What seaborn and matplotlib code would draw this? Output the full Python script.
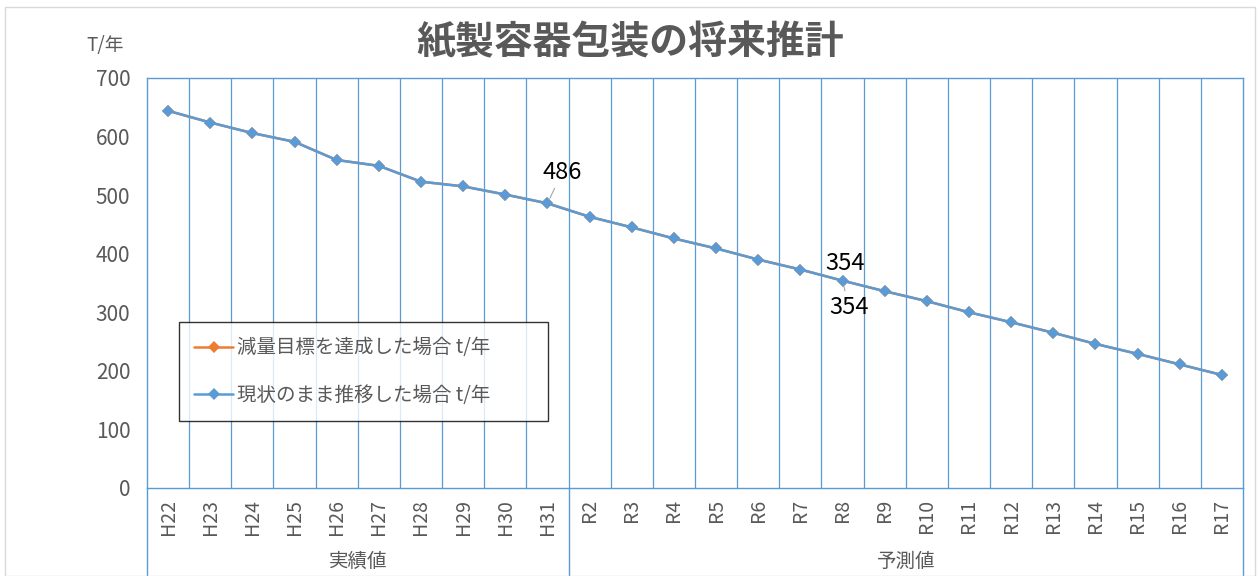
import matplotlib
matplotlib.use("Agg")
import matplotlib.pyplot as plt
import numpy as np
import pandas as pd
import seaborn as sns
from matplotlib.patches import Rectangle

# categories (fiscal years) and the two series
years = ['H22', 'H23', 'H24', 'H25', 'H26', 'H27', 'H28', 'H29', 'H30', 'H31',
         'R2', 'R3', 'R4', 'R5', 'R6', 'R7', 'R8', 'R9', 'R10', 'R11',
         'R12', 'R13', 'R14', 'R15', 'R16', 'R17']
current_trend = [644, 624, 606, 591, 560, 550, 523, 515, 501, 486,
                 463, 445, 426, 409, 390, 373, 354, 336, 319, 300,
                 283, 265, 246, 229, 211, 193]
target_case = [644, 624, 606, 591, 560, 550, 523, 515, 501, 486,
               463, 445, 426, 409, 390, 373, 354, 336, 319, 300,
               283, 265, 246, 229, 211, 193]
groups = ['実績値', '予測値']
group_sizes = [10, 16]

label_target = '減量目標を達成した場合 t/年'
label_current = '現状のまま推移した場合 t/年'

sns.set_style('white')
plt.rcParams['font.family'] = ['Noto Sans CJK JP', 'DejaVu Sans']

BLUE = '#5B9BD5'
ORANGE = '#ED7D31'
GRAY = '#595959'

df = pd.DataFrame({'year': years * 2,
                   'value': target_case + current_trend,
                   'series': [label_target] * len(years) + [label_current] * len(years)})

fig = plt.figure(figsize=(12.6, 5.76), dpi=100)
ax = fig.add_axes([147 / 1260, 1 - 488 / 576, (1243 - 147) / 1260, (488 - 78) / 576])

sns.lineplot(data=df, x='year', y='value', hue='series',
             palette={label_target: ORANGE, label_current: BLUE},
             marker='D', markersize=6, markeredgewidth=0, linewidth=1.8,
             sort=False, ax=ax)

n = len(years)
ax.set_xlim(-0.5, n - 0.5)
ax.set_ylim(0, 700)
ax.set_yticks(range(0, 701, 100))
ax.set_xlabel('')
ax.set_ylabel('')

# vertical category separators
for i in range(n - 1):
    ax.axvline(i + 0.5, color=BLUE, lw=0.9, zorder=0)
for s in ax.spines.values():
    s.set_visible(True)
    s.set_color(BLUE)
    s.set_linewidth(1.0)

ax.tick_params(axis='both', length=0, colors=GRAY)
ax.tick_params(axis='y', labelsize=15, pad=12)
ax.tick_params(axis='x', labelsize=14, pad=8)
plt.setp(ax.get_xticklabels(), rotation=90)

# group separators below the axis + group labels
bottom = -(576 - 488) / 410
start = 0
xt = ax.get_xaxis_transform()
ax.plot([-0.5, -0.5], [0, bottom], color=BLUE, lw=1.0, transform=xt, clip_on=False)
for g, size in zip(groups, group_sizes):
    end = start + size
    ax.plot([end - 0.5, end - 0.5], [0, bottom], color=BLUE, lw=1.0,
            transform=xt, clip_on=False)
    ax.text((start + end - 1) / 2, -0.178, g, transform=xt, ha='center',
            va='center', fontsize=14, color=GRAY)
    start = end

# data labels
i31 = years.index('H31')
i8 = years.index('R8')
ax.annotate(str(current_trend[i31]), xy=(i31, current_trend[i31]),
            xytext=(i31 + 0.35, current_trend[i31] + 53), ha='center', va='center',
            fontsize=17, color='black',
            arrowprops=dict(arrowstyle='-', color='#A6A6A6', lw=0.8, shrinkA=1, shrinkB=4))
ax.text(i8 + 0.05, target_case[i8] + 30, str(target_case[i8]), ha='center',
        va='center', fontsize=17, color='black')
ax.annotate(str(current_trend[i8]), xy=(i8, current_trend[i8]),
            xytext=(i8 + 0.15, current_trend[i8] - 45), ha='center', va='center',
            fontsize=17, color='black',
            arrowprops=dict(arrowstyle='-', color='#A6A6A6', lw=0.8, shrinkA=1, shrinkB=4))

leg = ax.legend(loc='lower left', bbox_to_anchor=(0.029, 0.163, 0.337, 0.237),
                mode='expand', frameon=True, fancybox=False, fontsize=14,
                labelspacing=1.35, handlelength=2.0, handletextpad=0.2,
                borderpad=0.8, borderaxespad=0)
leg.get_frame().set_edgecolor('black')
leg.get_frame().set_linewidth(1.0)
for t in leg.get_texts():
    t.set_color(GRAY)

fig.text(0.5, 1 - 42 / 576, '紙製容器包装の将来推計', ha='center', va='center',
         fontsize=28, fontweight='bold', color=GRAY)
fig.text(105 / 1260, 1 - 45 / 576, 'T/年', ha='center', va='center',
         fontsize=13.5, color=GRAY)

fig.patches.append(Rectangle((5 / 1260, 0), 1250 / 1260, 1 - 7 / 576,
                             transform=fig.transFigure, fill=False,
                             edgecolor='#D9D9D9', lw=1.0))

fig.savefig('out.png', dpi=100)
